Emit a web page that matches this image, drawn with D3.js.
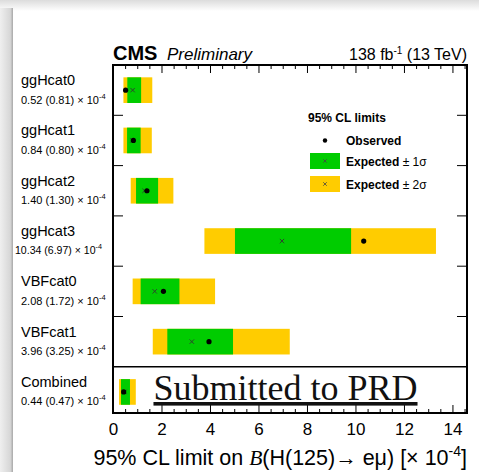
<!DOCTYPE html>
<html>
<head>
<meta charset="utf-8">
<script src="https://cdn.jsdelivr.net/npm/d3@7"></script>
<style>
  html, body { margin: 0; padding: 0; background: #fff; }
  svg { display: block; }
</style>
</head>
<body>
<svg id="chart" width="479" height="472"></svg>
<script>
// Upper limits on B(H -> e mu), in units of 1e-4
const categories = ["ggHcat0", "ggHcat1", "ggHcat2", "ggHcat3", "VBFcat0", "VBFcat1", "Combined"];
const observed   = [0.52, 0.84, 1.40, 10.34, 2.08, 3.96, 0.44];
const expected   = [0.81, 0.80, 1.30, 6.97, 1.72, 3.25, 0.47];
const expMinus2  = [0.43, 0.43, 0.73, 3.77, 0.81, 1.64, 0.25];
const expMinus1  = [0.59, 0.58, 0.95, 5.03, 1.14, 2.24, 0.33];
const expPlus1   = [1.16, 1.14, 1.86, 9.82, 2.74, 4.95, 0.70];
const expPlus2   = [1.62, 1.60, 2.49, 13.32, 4.21, 7.29, 0.94];
const majorTicks = [0, 2, 4, 6, 8, 10, 12, 14];

const rows = categories.map((c, i) => ({
  cat: c, obs: observed[i], exp: expected[i],
  m2: expMinus2[i], m1: expMinus1[i], p1: expPlus1[i], p2: expPlus2[i]
}));

const GREEN = "#00cc00", YELLOW = "#ffcc00";
const SANS = "'Liberation Sans', Arial, Helvetica, sans-serif";
const SERIF = "'Liberation Serif', 'Times New Roman', serif";

const svg = d3.select("#chart");
const frame = { left: 113, right: 467, top: 65, bottom: 413 };

// page shadow along the top and left edges
const defs = svg.append("defs");
const gTop = defs.append("linearGradient").attr("id", "shadeTop").attr("x1", 0).attr("y1", 0).attr("x2", 0).attr("y2", 1);
gTop.append("stop").attr("offset", "0%").attr("stop-color", "#dcdcdc");
gTop.append("stop").attr("offset", "100%").attr("stop-color", "#ffffff");
const gLeft = defs.append("linearGradient").attr("id", "shadeLeft").attr("x1", 0).attr("y1", 0).attr("x2", 1).attr("y2", 0);
gLeft.append("stop").attr("offset", "0%").attr("stop-color", "#efefef");
gLeft.append("stop").attr("offset", "80%").attr("stop-color", "#d6d6d6");
gLeft.append("stop").attr("offset", "100%").attr("stop-color", "#a8a8a8");
svg.append("rect").attr("x", 0).attr("y", 0).attr("width", 479).attr("height", 11).attr("fill", "url(#shadeTop)");
svg.append("rect").attr("x", 0).attr("y", 8).attr("width", 13).attr("height", 464).attr("fill", "url(#shadeLeft)");

const x = d3.scaleLinear().domain([0, 14.6]).range([frame.left, frame.right]);
const y = d3.scaleBand().domain(categories).range([frame.top, frame.top + 7 * 50.3]);
const barH = y.bandwidth() * 0.51;

// bands: +-2 sigma, then +-1 sigma on top
const bars = svg.append("g");
bars.selectAll("rect.s2").data(rows).join("rect").attr("class", "s2")
  .attr("x", d => x(d.m2)).attr("width", d => x(d.p2) - x(d.m2))
  .attr("y", d => y(d.cat) + (y.bandwidth() - barH) / 2).attr("height", barH)
  .attr("fill", YELLOW);
bars.selectAll("rect.s1").data(rows).join("rect").attr("class", "s1")
  .attr("x", d => x(d.m1)).attr("width", d => x(d.p1) - x(d.m1))
  .attr("y", d => y(d.cat) + (y.bandwidth() - barH) / 2).attr("height", barH)
  .attr("fill", GREEN);

// expected median: small cross
const cross = d3.symbol().type(d3.symbolX).size(14);
bars.selectAll("path.exp").data(rows).join("path").attr("class", "exp")
  .attr("d", cross)
  .attr("transform", d => `translate(${x(d.exp)},${y(d.cat) + y.bandwidth() / 2})`)
  .attr("fill", "none").attr("stroke", "#333").attr("stroke-width", 0.9);

// observed limit: dot
bars.selectAll("circle.obs").data(rows).join("circle").attr("class", "obs")
  .attr("cx", d => x(d.obs)).attr("cy", d => y(d.cat) + y.bandwidth() / 2)
  .attr("r", 2.6).attr("fill", "#000");

// row separators: short ticks on both sides, full line above the combined row
const seps = categories.slice(1);
svg.append("g").selectAll("g").data(seps).join("g").each(function (c) {
  const g = d3.select(this);
  const yy = y(c);
  if (c === "Combined") {
    g.append("line").attr("x1", frame.left).attr("x2", frame.right).attr("y1", yy).attr("y2", yy)
      .attr("stroke", "#000").attr("stroke-width", 1.6);
  } else {
    g.append("line").attr("x1", frame.left).attr("x2", frame.left + 10).attr("y1", yy).attr("y2", yy)
      .attr("stroke", "#000").attr("stroke-width", 1);
    g.append("line").attr("x1", frame.right - 10).attr("x2", frame.right).attr("y1", yy).attr("y2", yy)
      .attr("stroke", "#000").attr("stroke-width", 1);
  }
});

// x axes (bottom with labels, top mirrored ticks)
const minorTicks = d3.range(0, 14.51, 0.5).filter(v => v % 2 !== 0);
function styleAxis(g) {
  g.select(".domain").remove();
  g.selectAll(".tick line").attr("stroke", "#000").attr("stroke-width", 1);
}
svg.append("g").attr("transform", `translate(0,${frame.bottom})`)
  .call(d3.axisBottom(x).tickValues(majorTicks).tickSize(-8).tickPadding(10).tickFormat(d3.format("d")))
  .call(styleAxis)
  .call(g => g.selectAll("text").attr("font-family", SANS).attr("font-size", 17).attr("fill", "#000"));
svg.append("g").attr("transform", `translate(0,${frame.bottom})`)
  .call(d3.axisBottom(x).tickValues(minorTicks).tickSize(-4).tickFormat(""))
  .call(styleAxis);
svg.append("g").attr("transform", `translate(0,${frame.top})`)
  .call(d3.axisTop(x).tickValues(majorTicks).tickSize(-8).tickFormat(""))
  .call(styleAxis);
svg.append("g").attr("transform", `translate(0,${frame.top})`)
  .call(d3.axisTop(x).tickValues(minorTicks).tickSize(-4).tickFormat(""))
  .call(styleAxis);

// frame
svg.append("rect").attr("x", frame.left).attr("y", frame.top)
  .attr("width", frame.right - frame.left).attr("height", frame.bottom - frame.top)
  .attr("fill", "none").attr("stroke", "#000").attr("stroke-width", 2);

// category labels with observed (expected) values
const fmt = d3.format(".2f");
const labels = svg.append("g").attr("font-family", SANS).attr("fill", "#000");
rows.forEach(d => {
  const top = y(d.cat);
  labels.append("text").attr("x", 21).attr("y", top + 20).attr("font-size", 14.5).text(d.cat);
  const t = labels.append("text").attr("x", 21).attr("y", top + 38.5).attr("font-size", 11);
  t.append("tspan").text(`${fmt(d.obs)} (${fmt(d.exp)}) \u00d7 10`);
  t.append("tspan").attr("font-size", 7.5).attr("dy", -5).text("-4");
  const w = t.node().getComputedTextLength();
  if (w > 88) {
    const s = 11 * 87 / w;
    t.attr("x", 15).attr("font-size", s);
    t.select("tspan:last-child").attr("font-size", 7.5 * s / 11);
  }
});

// header
svg.append("text").attr("x", 113).attr("y", 60).attr("font-family", SANS)
  .attr("font-weight", "bold").attr("font-size", 20).text("CMS");
svg.append("text").attr("x", 167).attr("y", 60).attr("font-family", SANS)
  .attr("font-style", "italic").attr("font-size", 17).text("Preliminary");
const lumi = svg.append("text").attr("x", 467).attr("y", 60).attr("text-anchor", "end")
  .attr("font-family", SANS).attr("font-size", 16);
lumi.append("tspan").text("138 fb");
lumi.append("tspan").attr("font-size", 10).attr("dy", -6).text("-1");
lumi.append("tspan").attr("dy", 6).text(" (13 TeV)");

// x-axis title
const title = svg.append("text").attr("x", 467).attr("y", 465).attr("text-anchor", "end")
  .attr("font-family", SANS).attr("font-size", 21.5);
title.append("tspan").text("95% CL limit on ");
title.append("tspan").attr("font-family", SERIF).attr("font-style", "italic").text("B");
title.append("tspan").text("(H(125)\u2192 e\u03bc)  [\u00d7 10");
title.append("tspan").attr("font-size", 14).attr("dy", -9).text("-4");
title.append("tspan").attr("dy", 9).text("]");

// legend
const lg = svg.append("g").attr("font-family", SANS).attr("font-size", 12).attr("font-weight", "bold");
lg.append("text").attr("x", 308).attr("y", 122).text("95% CL limits");
lg.append("circle").attr("cx", 325).attr("cy", 140.5).attr("r", 2.2).attr("fill", "#000");
lg.append("text").attr("x", 346).attr("y", 145).text("Observed");
[[GREEN, 153, "1"], [YELLOW, 176, "2"]].forEach(([col, yy, n]) => {
  lg.append("rect").attr("x", 310).attr("y", yy).attr("width", 30).attr("height", 16).attr("fill", col);
  lg.append("path").attr("d", d3.symbol().type(d3.symbolX).size(10))
    .attr("transform", `translate(325,${yy + 8})`).attr("fill", "none").attr("stroke", "#444").attr("stroke-width", 0.8);
  const t = lg.append("text").attr("x", 346).attr("y", yy + 12.5);
  t.append("tspan").text("Expected ");
  t.append("tspan").attr("font-weight", "normal").text(`\u00b1 ${n}\u03c3`);
});

// publication stamp inside the combined row
svg.append("text").attr("x", 285.5).attr("y", 400).attr("text-anchor", "middle")
  .attr("font-family", SERIF).attr("font-size", 36).attr("fill", "#111")
  .attr("text-decoration", "underline").text("Submitted to PRD");
</script>
</body>
</html>
